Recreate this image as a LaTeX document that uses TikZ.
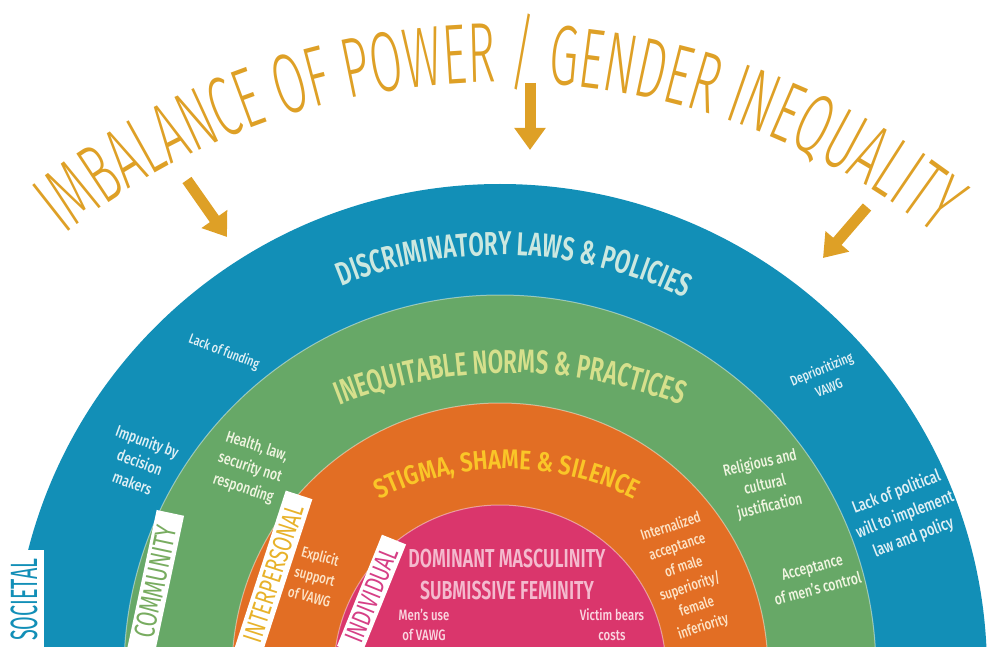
\documentclass[tikz,border=0pt]{standalone}
\usepackage{fontspec}
\setmainfont{Fira Sans}
\newfontfamily\titlefont[FakeStretch=0.555]{Fira Sans Light}
\newfontfamily\headfont[FakeStretch=0.68]{Fira Sans SemiBold}
\newfontfamily\stigmafont[FakeStretch=0.82]{Fira Sans SemiBold}
\newfontfamily\tabfont[FakeStretch=0.72]{Fira Sans}
\newfontfamily\widetabfont[FakeStretch=0.52]{Fira Sans}
\newfontfamily\notefont[FakeStretch=0.76]{Fira Sans Medium}
\usetikzlibrary{arrows.meta,decorations.text}

\definecolor{cSoc}{RGB}{18,143,183}
\definecolor{cCom}{RGB}{103,168,103}
\definecolor{cInt}{RGB}{226,110,36}
\definecolor{cInd}{RGB}{218,54,108}
\definecolor{cGold}{RGB}{222,160,38}
\definecolor{hSoc}{RGB}{204,232,224}
\definecolor{hCom}{RGB}{214,224,140}
\definecolor{hInt}{RGB}{250,198,40}
\definecolor{hInd}{RGB}{244,186,206}
\definecolor{nSoc}{RGB}{225,240,245}
\definecolor{nCom}{RGB}{240,245,225}
\definecolor{nInt}{RGB}{252,228,200}
\definecolor{nInd}{RGB}{250,215,225}
\definecolor{tCom}{RGB}{120,172,96}
\definecolor{tInt}{RGB}{232,178,42}
\definecolor{tInd}{RGB}{214,63,134}

\tikzset{
  seam/.style={draw=white, opacity=.45, line width=1pt},
  tab/.style={fill=white, inner sep=0pt, anchor=west,
    font=\tabfont\fontsize{29}{29}\selectfont},
  note/.style={align=center, inner sep=0pt,
    font=\notefont\fontsize{16}{22}\selectfont},
  push/.style={draw=cGold, line width=11pt,
    -{Triangle[width=30pt,length=22pt]}},
}

\begin{document}
\begin{tikzpicture}[x=1pt,y=1pt]
\useasboundingbox (-500,22) rectangle (490,671);

% the four half rings
\begin{scope}
  \clip (-500,25) rectangle (490,671);
  \fill[cSoc] (0,0) circle[radius=487];
  \fill[cCom] (0,0) circle[radius=376];
  \fill[cInt] (0,0) circle[radius=268];
  \fill[cInd] (0,0) circle[radius=166];
  \foreach \r in {376,268,166}
    \path[seam] (0,0) circle[radius=\r];
\end{scope}

% title on its own wider arc
\path[shift={(0,-108)}, decorate, decoration={text along path, text align=center,
    text={|\titlefont\fontsize{85}{85}\selectfont\color{cGold}|IMBALANCE OF POWER / GENDER INEQUALITY}}]
  (140:697) arc[start angle=140, end angle=40, radius=697];

% ring headings
\path[decorate, decoration={text along path, text align=center,
    text={|\headfont\fontsize{33}{33}\selectfont\color{hSoc}|DISCRIMINATORY LAWS {\&} POLICIES}}]
  (128:416) arc[start angle=128, end angle=48, radius=416];
\path[shift={(10,-169)}, decorate, decoration={text along path, text align=center,
    text={|\headfont\fontsize{33}{33}\selectfont\color{hCom}|INEQUITABLE NORMS {\&} PRACTICES}}]
  (125:467) arc[start angle=125, end angle=55, radius=467];
\path[shift={(7,-82)}, decorate, decoration={text along path, text align=center,
    text={|\stigmafont\fontsize{27}{27}\selectfont\color{hInt}|STIGMA, SHAME {\&} SILENCE}}]
  (130:284) arc[start angle=130, end angle=50, radius=284];

\node[font=\headfont\fontsize{26}{26}\selectfont, text=hInd] (masc) at (7,112) {DOMINANT MASCULINITY};
\node[font=\headfont\fontsize{26}{26}\selectfont, text=hInd] (femi) at (7,81) {SUBMISSIVE FEMINITY};

% notes in each ring
\node[note, text=nSoc, rotate=-21, font=\notefont\fontsize{14}{18}\selectfont] (funding) at (-276,319) {Lack of funding};
\node[note, text=nSoc, rotate=-20] (impunity) at (-360,209) {Impunity by\\decision\\makers};
\node[note, text=nSoc, rotate=22, font=\notefont\fontsize{14}{20}\selectfont] (deprio) at (325,293) {Deprioritizing\\VAWG};
\node[note, text=nSoc, rotate=21, font=\notefont\fontsize{17}{24}\selectfont] (will) at (405,156) {Lack of political\\will to implement\\law and policy};

\node[note, text=nCom, rotate=-18] (health) at (-250,203) {Health, law,\\security not\\responding};
\node[note, text=nCom, rotate=13] (religion) at (265,186) {Religious and\\cultural\\justification};
\node[note, text=nCom, rotate=15] (control) at (315,93) {Acceptance\\of men’s control};

\node[note, text=nInt, rotate=-15, font=\notefont\fontsize{15}{21}\selectfont] (explicit) at (-185,95) {Explicit\\support\\of VAWG};
\node[note, text=nInt, rotate=18, font=\notefont\fontsize{15}{21}\selectfont] (internal) at (187,94) {Internalized\\acceptance\\of male\\superiority/\\female\\inferiority};

\node[note, text=nInd, font=\notefont\fontsize{15}{20}\selectfont] (menuse) at (-76,46) {Men’s use\\of VAWG};
\node[note, text=nInd, font=\notefont\fontsize{15}{20}\selectfont] (victim) at (112,46) {Victim bears\\costs};

% level tabs at the left foot of each ring
\node[tab, text=cSoc, rotate=90, minimum width=100pt, minimum height=40pt, font=\widetabfont\fontsize{38}{38}\selectfont] (societal) at (-476,21) {SOCIETAL};
\node[tab, text=tCom, rotate=78, minimum width=141pt, minimum height=28pt] (community) at (-359,20) {COMMUNITY};
\node[tab, text=tInt, rotate=72, minimum width=165pt, minimum height=28pt, font=\tabfont\fontsize{27}{27}\selectfont] (interpersonal) at (-252,19) {INTERPERSONAL};
\node[tab, text=tInd, rotate=68, minimum width=120pt, minimum height=26pt, font=\tabfont\fontsize{27}{27}\selectfont] (individual) at (-151,20) {INDIVIDUAL};

% arrows from the title into the rings
\coordinate (pushL) at (-313,491);
\coordinate (hitL) at (-273,434);
\coordinate (pushM) at (30,588);
\coordinate (hitM) at (30,521);
\coordinate (pushR) at (367,464);
\coordinate (hitR) at (323,413);
\draw[push] (pushL) -- (hitL);
\draw[push] (pushM) -- (hitM);
\draw[push] (pushR) -- (hitR);
\end{tikzpicture}
\end{document}
